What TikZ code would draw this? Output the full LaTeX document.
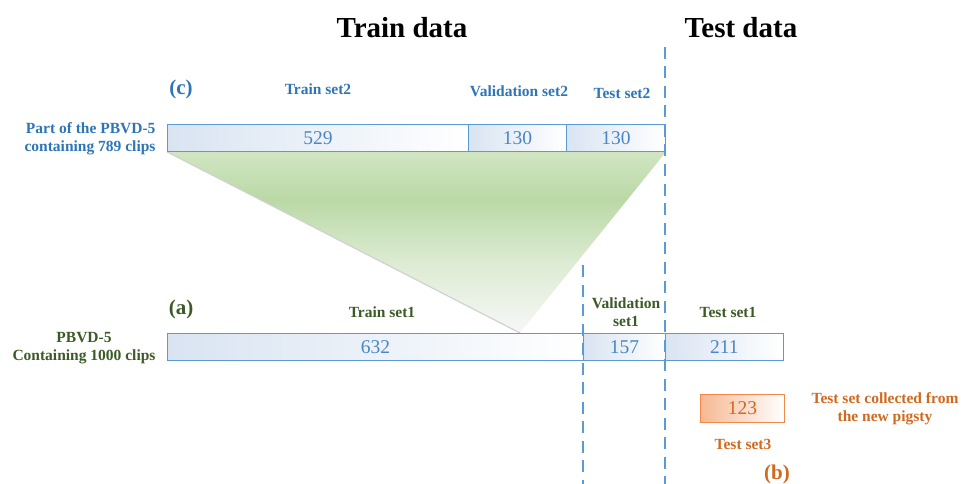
\documentclass[tikz,border=0pt]{standalone}
\usepackage{fontspec}
\setmainfont{Liberation Serif}
\usetikzlibrary{backgrounds}
\definecolor{blueTxt}{HTML}{2E75B6}
\definecolor{blueNum}{HTML}{4A86C5}
\definecolor{blueLine}{HTML}{5B9BD5}
\definecolor{blueFill}{HTML}{D9E4F2}
\definecolor{greenTxt}{HTML}{3B5A26}
\definecolor{orangeTxt}{HTML}{D0691F}
\definecolor{orangeLine}{HTML}{F0894A}
\definecolor{orangeFill}{HTML}{F6B893}
% funnel fill: light green at the top, strongest a little below, fading to white
\pgfdeclareverticalshading{funnel}{100bp}{%
  rgb(0bp)=(1,1,1); rgb(25bp)=(0.97,0.97,0.97); rgb(45bp)=(0.86,0.92,0.82);
  rgb(62bp)=(0.73,0.85,0.65); rgb(75bp)=(0.82,0.90,0.76); rgb(100bp)=(0.82,0.90,0.76)}
\tikzset{
  cell/.style={draw=blueLine, line width=0.9pt, anchor=north west, minimum height=27pt,
    inner sep=0pt, left color=blueFill, right color=white, text=blueNum,
    font=\fontsize{19.5}{19.5}\selectfont},
  ocell/.style={draw=orangeLine, line width=0.9pt, anchor=north west, minimum height=28pt,
    minimum width=84pt, inner sep=0pt, left color=orangeFill, right color=white,
    text=orangeTxt, font=\fontsize{19.5}{19.5}\selectfont},
  title/.style={font=\bfseries\fontsize{29}{29}\selectfont, text=black},
  blab/.style={font=\bfseries\fontsize{15.5}{18}\selectfont, text=blueTxt, align=center},
  glab/.style={font=\bfseries\fontsize{15.5}{18}\selectfont, text=greenTxt, align=center},
  olab/.style={font=\bfseries\fontsize{15.5}{18}\selectfont, text=orangeTxt, align=center},
  tag/.style={font=\bfseries\fontsize{21}{21}\selectfont},
  split/.style={draw=blueLine, line width=1.4pt, dash pattern=on 12pt off 7.5pt},
}
\begin{document}
\begin{tikzpicture}[x=1pt,y=-1pt]
\useasboundingbox (0,0) rectangle (961,484);

% headings
\node[title] (train) at (402,28) {Train data};
\node[title] (test) at (741,28) {Test data};

% (c) split of the 789-clip subset
\node[cell, minimum width=301pt] (c1) at (167,124) {529};
\node[cell, minimum width=98pt] (c2) at (468,124) {130};
\node[cell, minimum width=99pt] (c3) at (566,124) {130};

% (a) split of the full dataset
\node[cell, minimum width=416pt] (a1) at (167,333) {632};
\node[cell, minimum width=82pt] (a2) at (583,333) {157};
\node[cell, minimum width=118pt] (a3) at (665,333) {211};

% (b) extra test set
\node[ocell] (b1) at (700,394) {123};

% funnel from the subset down into the training split
\coordinate (apex) at (520,333);
\begin{pgfonlayer}{background}
\shade[shading=funnel] (c1.south west) -- (c3.south east) -- (apex) -- cycle;
\draw[black!18, line width=1.2pt] (c1.south west) -- (apex);
\end{pgfonlayer}

% dashed boundaries
\coordinate (d1top) at (665,47);
\coordinate (d1bot) at (665,486);
\coordinate (d2top) at (583,265);
\coordinate (d2bot) at (583,486);
\draw[split] (d1top) -- (d1bot);
\draw[split] (d2top) -- (d2bot);

% labels for (c)
\node[tag, text=blueTxt] (tc) at (181,89) {(c)};
\node[blab] (lc1) at (318,89) {Train set2};
\node[blab] (lc2) at (519,91) {Validation set2};
\node[blab] (lc3) at (622,93) {Test set2};
\node[blab, align=right, anchor=east] (pc) at (159,139) {Part of the PBVD-5\\containing 789 clips};

% labels for (a)
\node[tag, text=greenTxt] (ta) at (181,309) {(a)};
\node[glab] (la1) at (382,312) {Train set1};
\node[glab] (la2) at (626,312) {Validation\\set1};
\node[glab] (la3) at (728,312) {Test set1};
\node[glab] (pa) at (84,348) {PBVD-5\\Containing 1000 clips};

% labels for (b)
\node[olab] (lb) at (885,409) {Test set collected from\\the new pigsty};
\node[olab] (lb3) at (743,444) {Test set3};
\node[tag, text=orangeTxt] (tb) at (777,474) {(b)};
\end{tikzpicture}
\end{document}
